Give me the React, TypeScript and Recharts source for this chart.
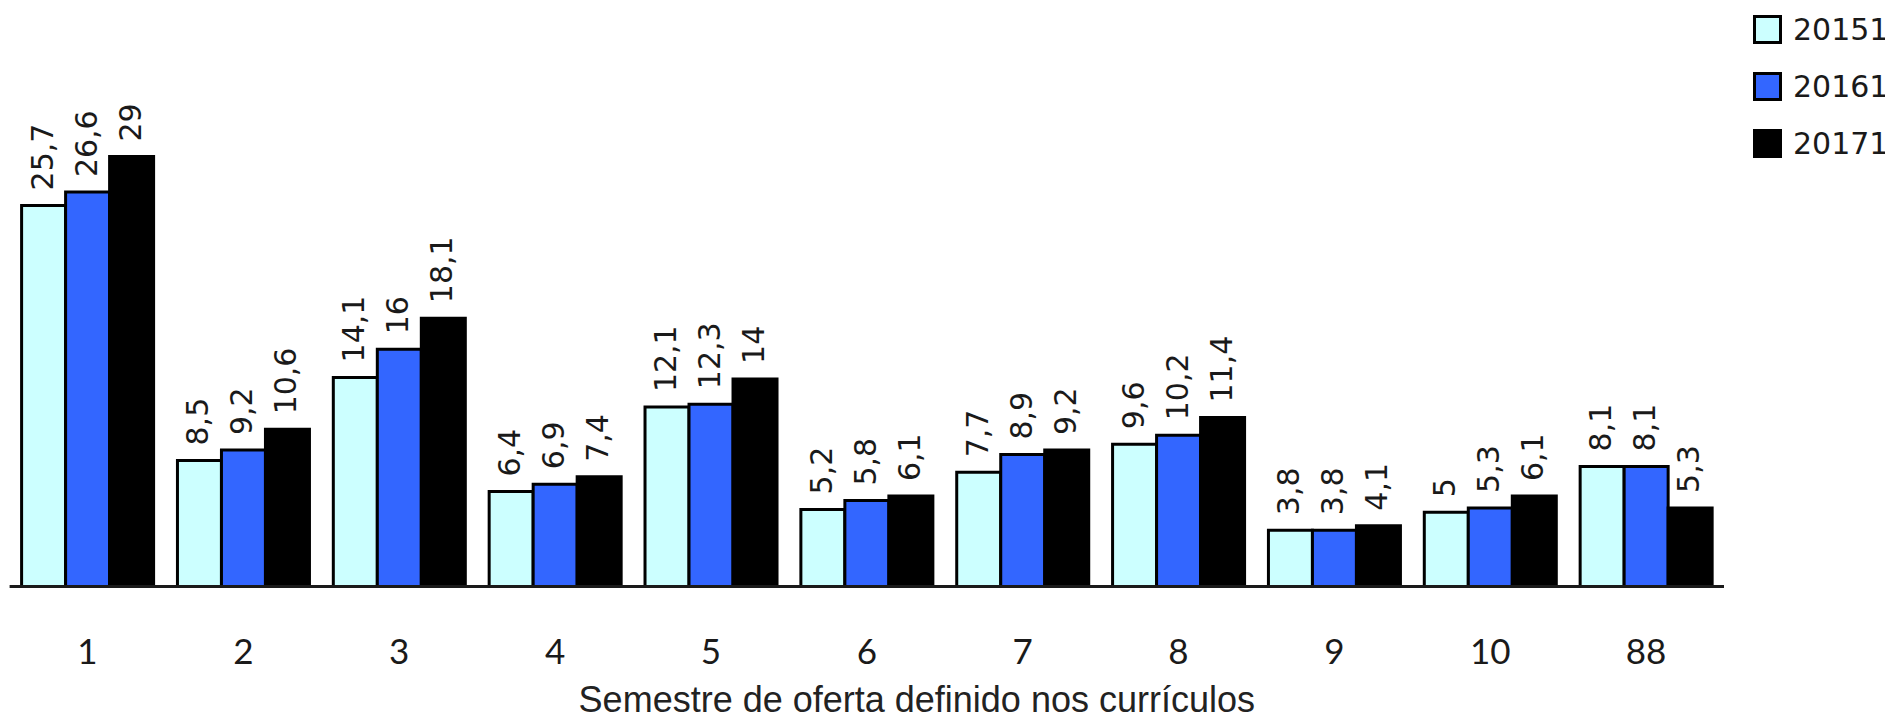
import React from "react";
import { BarChart, Bar, XAxis, YAxis, Legend, LabelList, Label } from "recharts";

const categories = ["1", "2", "3", "4", "5", "6", "7", "8", "9", "10", "88"];
const s20151 = [25.7, 8.5, 14.1, 6.4, 12.1, 5.2, 7.7, 9.6, 3.8, 5, 8.1];
const s20161 = [26.6, 9.2, 16, 6.9, 12.3, 5.8, 8.9, 10.2, 3.8, 5.3, 8.1];
const s20171 = [29, 10.6, 18.1, 7.4, 14, 6.1, 9.2, 11.4, 4.1, 6.1, 5.3];
const seriesNames = ["20151", "20161", "20171"];
const seriesColors = ["#CCFFFF", "#3366FF", "#000000"];
const xTitle = "Semestre de oferta definido nos currículos";

const data = categories.map((c, i) => ({
  cat: c,
  "20151": s20151[i],
  "20161": s20161[i],
  "20171": s20171[i],
}));

const fmt = (v: number) => String(v).replace(".", ",");

const ValueLabel = (props: any) => {
  const { x, y, width, value } = props;
  const cx = Number(x) + Number(width) / 2 + 9;
  const ty = Number(y) - 15;
  return (
    <text
      transform={`translate(${cx}, ${ty}) rotate(-90)`}
      textAnchor="start"
      fontFamily="'DejaVu Sans', sans-serif"
      fontSize={30}
      fill="#1a1a1a"
    >
      {fmt(value)}
    </text>
  );
};

const Tick = (props: any) => {
  const { x, y, payload } = props;
  return (
    <text
      x={x}
      y={Number(y) + 77}
      textAnchor="middle"
      fontFamily="Lato, sans-serif"
      fontSize={35}
      fill="#1a1a1a"
    >
      {payload.value}
    </text>
  );
};

const LegendContent = (props: any) => {
  const payload = props.payload || [];
  return (
    <div style={{ display: "flex", flexDirection: "column" }}>
      {payload.map((p: any, i: number) => (
        <div
          key={i}
          style={{
            display: "flex",
            alignItems: "center",
            height: 29,
            marginBottom: 28.3,
          }}
        >
          <div
            style={{
              width: 29,
              height: 29,
              boxSizing: "border-box",
              border: "3.5px solid #000",
              background: p.color,
            }}
          />
          <span
            style={{
              marginLeft: 11,
              fontFamily: "'DejaVu Sans', sans-serif",
              fontSize: 30,
              color: "#1a1a1a",
              lineHeight: "29px",
            }}
          >
            {p.value}
          </span>
        </div>
      ))}
    </div>
  );
};

const TitleLabel = (props: any) => {
  const vb = props.viewBox || {};
  return (
    <text
      x={vb.x + vb.width / 2 + 50}
      y={704}
      textAnchor="middle"
      fontFamily="'Liberation Sans', Arial, sans-serif"
      fontSize={36}
      fill="#222"
    >
      {xTitle}
    </text>
  );
};

export default function App() {
  return (
    <div style={{ width: 1877, height: 713, background: "#fff", position: "relative" }}>
      <BarChart
        width={1877}
        height={713}
        data={data}
        margin={{ top: 133.7, right: 161, left: 1.6, bottom: 0 }}
        barCategoryGap={12}
        barGap={0}
      >
        <XAxis
          dataKey="cat"
          height={134.5}
          axisLine={{ stroke: "#1a1a1a", strokeWidth: 3 }}
          tickLine={false}
          tickSize={0}
          tickMargin={0}
          tick={<Tick />}
          interval={0}
        >
          <Label content={<TitleLabel />} />
        </XAxis>
        <YAxis hide domain={[0, 30]} />
        <Legend
          layout="vertical"
          align="center"
          verticalAlign="middle"
          content={<LegendContent />}
          wrapperStyle={{ position: "absolute", top: 6.5, left: 1745, width: 140, height: 180 }}
        />
        {seriesNames.map((name, i) => (
          <Bar
            key={name}
            dataKey={name}
            name={name}
            fill={seriesColors[i]}
            stroke="#000"
            strokeWidth={3}
            isAnimationActive={false}
          >
            <LabelList dataKey={name} content={<ValueLabel />} />
          </Bar>
        ))}
      </BarChart>
    </div>
  );
}
